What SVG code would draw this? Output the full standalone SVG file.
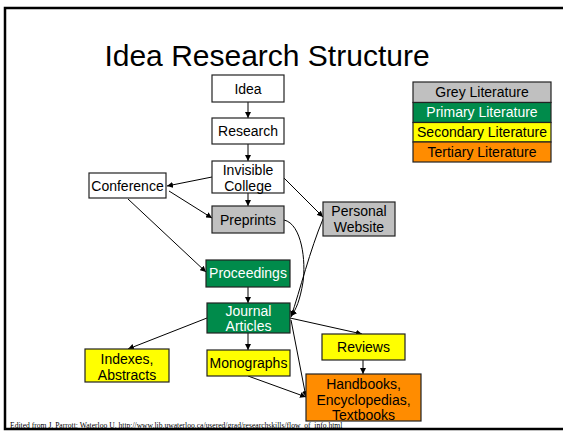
<svg xmlns="http://www.w3.org/2000/svg" width="563" height="431" viewBox="0 0 563 431">
  <style>
    .box { stroke: #222; stroke-width: 1.2; }
    .white { fill: #ffffff; }
    .grey { fill: #c0c0c0; }
    .green { fill: #008b4b; }
    .yellow { fill: #ffff00; }
    .orange { fill: #ff8c00; }
    .lbl { font-family: "Liberation Sans", Arial, sans-serif; font-size: 14px; text-anchor: middle; fill: #000; }
    .lbl.w { fill: #ffffff; }
    .edge { fill: none; stroke: #000; stroke-width: 1; }
  </style>
  <defs>
    <marker id="arr" viewBox="0 0 10 10" refX="10" refY="5" markerWidth="6" markerHeight="6" orient="auto" markerUnits="userSpaceOnUse">
      <path d="M0,0 L10,5 L0,10 z" fill="#000"/>
    </marker>
  </defs>

  <rect x="0" y="0" width="563" height="431" fill="#ffffff"/>
  <!-- slide frame -->
  <rect x="5" y="8" width="570" height="421" fill="none" stroke="#000" stroke-width="2.5"/>

  <text x="267" y="66" font-family="Liberation Sans, Arial, sans-serif" font-size="30" text-anchor="middle">Idea Research Structure</text>

  <!-- legend -->
  <g id="legend">
    <rect x="413" y="82" width="138" height="20.5" class="box grey"/>
    <rect x="413" y="102.5" width="138" height="20" class="box green"/>
    <rect x="413" y="122.5" width="138" height="19.5" class="box yellow"/>
    <rect x="413" y="142" width="138" height="20" class="box orange"/>
    <text x="482" y="97" class="lbl">Grey Literature</text>
    <text x="482" y="117" class="lbl w">Primary Literature</text>
    <text x="482" y="137" class="lbl">Secondary Literature</text>
    <text x="482" y="157" class="lbl">Tertiary Literature</text>
  </g>

  <!-- connectors -->
  <g id="connectors">
    <line x1="248" y1="102" x2="248" y2="118" class="edge" marker-end="url(#arr)"/>
    <line x1="248" y1="144" x2="248" y2="161" class="edge" marker-end="url(#arr)"/>
    <line x1="212" y1="177" x2="167" y2="186" class="edge" marker-end="url(#arr)"/>
    <line x1="169" y1="191" x2="212" y2="218" class="edge" marker-end="url(#arr)"/>
    <line x1="248" y1="193" x2="248" y2="206" class="edge" marker-end="url(#arr)"/>
    <line x1="284" y1="178" x2="323" y2="217" class="edge" marker-end="url(#arr)"/>
    <line x1="128" y1="199" x2="206" y2="272" class="edge" marker-end="url(#arr)"/>
    <line x1="248" y1="287" x2="248" y2="303" class="edge" marker-end="url(#arr)"/>
    <path d="M284,220 C302,224 306,262 303,282 C300,300 296,310 291,316" class="edge" marker-end="url(#arr)"/>
    <path d="M323,219 C310,250 300,290 291,317" class="edge" marker-end="url(#arr)"/>
    <line x1="207" y1="318" x2="128" y2="349" class="edge" marker-end="url(#arr)"/>
    <line x1="248" y1="333" x2="248" y2="350" class="edge" marker-end="url(#arr)"/>
    <line x1="290" y1="318" x2="362" y2="334" class="edge" marker-end="url(#arr)"/>
    <line x1="363" y1="360" x2="363" y2="374" class="edge" marker-end="url(#arr)"/>
    <line x1="248" y1="376" x2="306" y2="397" class="edge" marker-end="url(#arr)"/>
    <line x1="291" y1="320" x2="306" y2="397" class="edge" marker-end="url(#arr)"/>
  </g>

  <g id="idea">
    <rect x="212" y="75" width="72" height="27" class="box white"/>
    <text x="248" y="93.5" class="lbl">Idea</text>
  </g>
  <g id="research">
    <rect x="212" y="118" width="72" height="26" class="box white"/>
    <text x="248" y="136" class="lbl">Research</text>
  </g>
  <g id="invisible-college">
    <rect x="212" y="161" width="72" height="32" class="box white"/>
    <text x="248" y="175" class="lbl">Invisible</text>
    <text x="248" y="191" class="lbl">College</text>
  </g>
  <g id="conference">
    <rect x="89" y="173" width="77" height="25" class="box white"/>
    <text x="127.5" y="190.5" class="lbl">Conference</text>
  </g>
  <g id="preprints">
    <rect x="212" y="206" width="72" height="27" class="box grey"/>
    <text x="248" y="224.5" class="lbl">Preprints</text>
  </g>
  <g id="personal-website">
    <rect x="323" y="202" width="72" height="34" class="box grey"/>
    <text x="359" y="216" class="lbl">Personal</text>
    <text x="359" y="232" class="lbl">Website</text>
  </g>
  <g id="proceedings">
    <rect x="206" y="260" width="84" height="27" class="box green"/>
    <text x="248" y="278" class="lbl w">Proceedings</text>
  </g>
  <g id="journal-articles">
    <rect x="207" y="303" width="83" height="30" class="box green"/>
    <text x="248.5" y="316" class="lbl w">Journal</text>
    <text x="248.5" y="331" class="lbl w">Articles</text>
  </g>
  <g id="indexes-abstracts">
    <rect x="85" y="349" width="84" height="33" class="box yellow"/>
    <text x="127" y="364" class="lbl">Indexes,</text>
    <text x="127" y="380" class="lbl">Abstracts</text>
  </g>
  <g id="monographs">
    <rect x="207" y="350" width="83" height="26" class="box yellow"/>
    <text x="248.5" y="368" class="lbl">Monographs</text>
  </g>
  <g id="reviews">
    <rect x="322" y="334" width="83" height="26" class="box yellow"/>
    <text x="363.5" y="352" class="lbl">Reviews</text>
  </g>
  <g id="handbooks">
    <rect x="306" y="374" width="115" height="47" class="box orange"/>
    <text x="363.5" y="388.5" class="lbl">Handbooks,</text>
    <text x="363.5" y="404.5" class="lbl">Encyclopedias,</text>
    <text x="363.5" y="420" class="lbl">Textbooks</text>
  </g>

  <text x="10" y="427.5" font-family="Liberation Serif, 'Times New Roman', serif" font-size="7.6" fill="#000">Edited from J. Parrott: Waterloo U. http://www.lib.uwaterloo.ca/usered/grad/researchskills/flow_of_info.html</text>
</svg>
